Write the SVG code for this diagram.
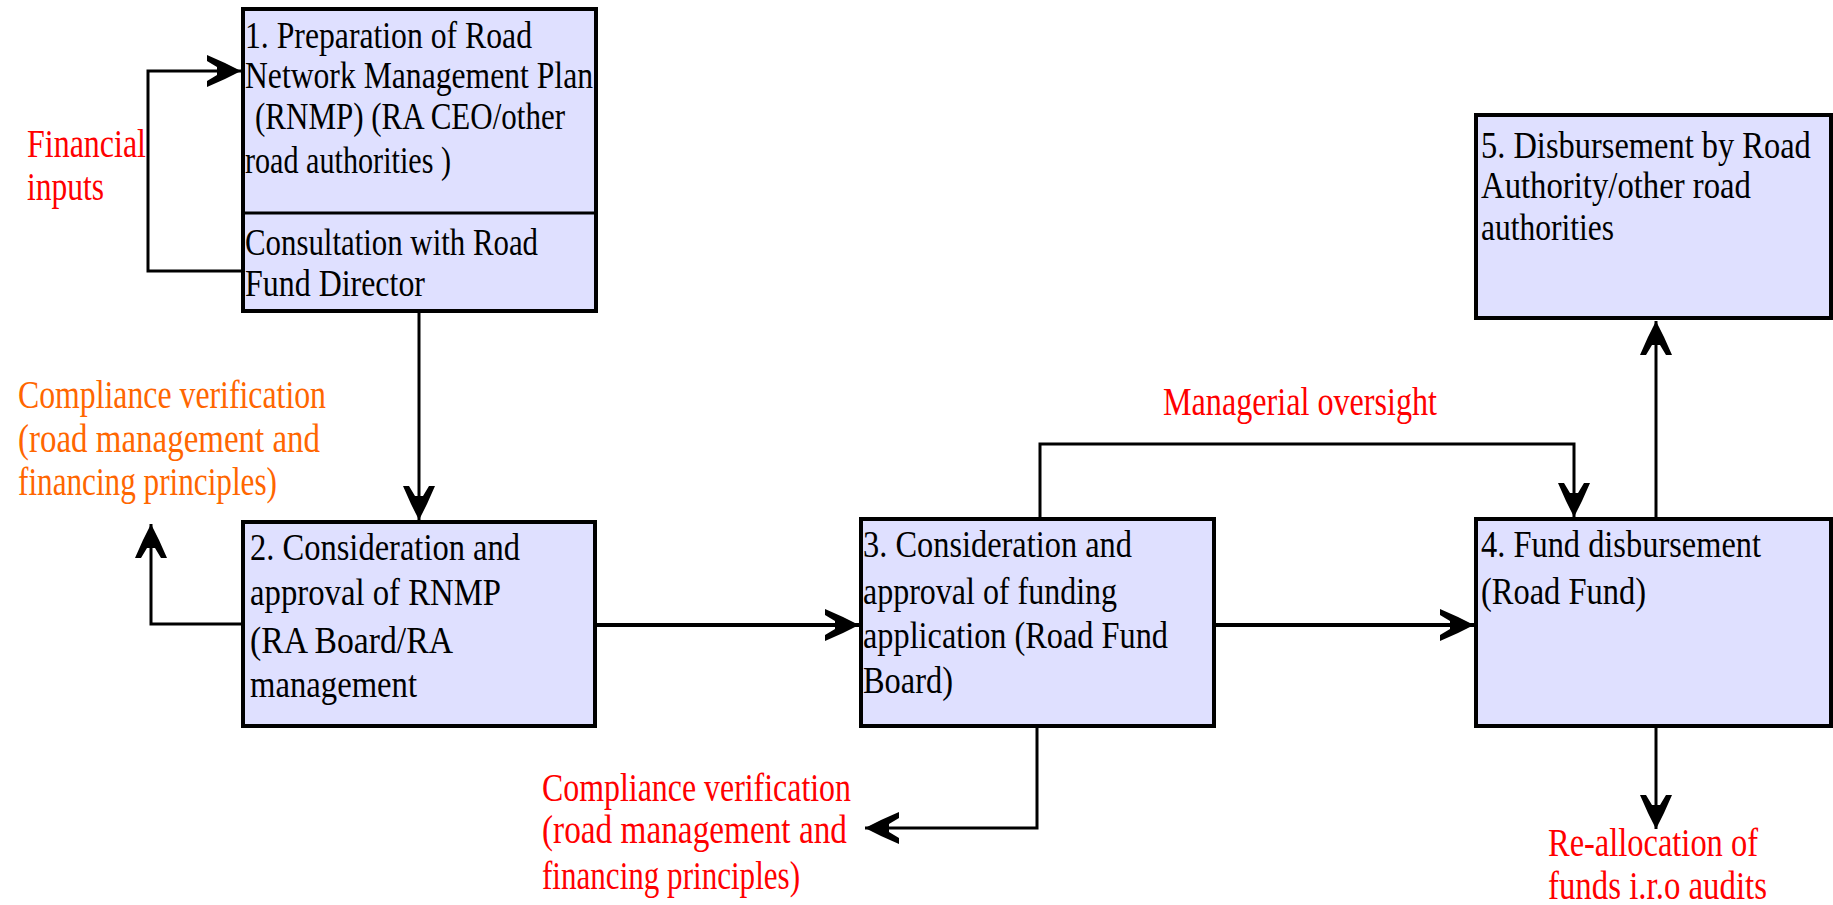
<svg xmlns="http://www.w3.org/2000/svg" width="1833" height="905" viewBox="0 0 1833 905">
<style>
.box{fill:#DFE0FF;stroke:#000;stroke-width:4}
.t{font-family:"Liberation Serif","Times New Roman",serif;font-size:38px;fill:#000}
.r{font-family:"Liberation Serif","Times New Roman",serif;font-size:41px;fill:#FF0000}
.o{font-family:"Liberation Serif","Times New Roman",serif;font-size:41px;fill:#FF6600}
.c{fill:none;stroke:#000;stroke-width:3}
.c4{fill:none;stroke:#000;stroke-width:4}
</style>
<defs>
<marker id="ah" markerUnits="userSpaceOnUse" viewBox="-40 -18 44 36" markerWidth="44" markerHeight="36" refX="0" refY="0" orient="auto" overflow="visible">
<path d="M0,0 L-6,-3 L-16,-8 L-34,-16 L-34,-10 L-24,-4 L-24,4 L-34,10 L-34,16 L-16,8 L-6,3 Z" fill="#000"/>
</marker>
</defs>
<rect width="1833" height="905" fill="#fff"/>
<g id="connectors">
<path class="c" d="M243,271 H148 V71 H241" marker-end="url(#ah)"/>
<path class="c" d="M419,311 V520" marker-end="url(#ah)"/>
<path class="c" d="M243,624 H151 V524" marker-end="url(#ah)"/>
<path class="c4" d="M596,625 H859" marker-end="url(#ah)"/>
<path class="c" d="M1037,727 V828 H865" marker-end="url(#ah)"/>
<path class="c" d="M1040,519 V444 H1574 V517" marker-end="url(#ah)"/>
<path class="c4" d="M1214,625 H1474" marker-end="url(#ah)"/>
<path class="c" d="M1656,519 V321" marker-end="url(#ah)"/>
<path class="c" d="M1656,727 V829" marker-end="url(#ah)"/>
</g>
<g id="node1">
<rect class="box" x="243" y="9" width="353" height="302"/>
<line x1="243" y1="213" x2="596" y2="213" stroke="#000" stroke-width="3"/>
<text class="t" x="245" y="48" textLength="287" lengthAdjust="spacingAndGlyphs">1. Preparation of Road</text>
<text class="t" x="245" y="88" textLength="348" lengthAdjust="spacingAndGlyphs">Network Management Plan</text>
<text class="t" x="255" y="129" textLength="310" lengthAdjust="spacingAndGlyphs">(RNMP) (RA CEO/other</text>
<text class="t" x="245" y="173" textLength="206" lengthAdjust="spacingAndGlyphs">road authorities )</text>
<text class="t" x="245" y="255" textLength="293" lengthAdjust="spacingAndGlyphs">Consultation with Road</text>
<text class="t" x="245" y="296" textLength="180" lengthAdjust="spacingAndGlyphs">Fund Director</text>
</g>
<g id="node2">
<rect class="box" x="243" y="522" width="352" height="204"/>
<text class="t" x="250" y="560" textLength="270" lengthAdjust="spacingAndGlyphs">2. Consideration and</text>
<text class="t" x="250" y="605" textLength="251" lengthAdjust="spacingAndGlyphs">approval of RNMP</text>
<text class="t" x="250" y="653" textLength="203" lengthAdjust="spacingAndGlyphs">(RA Board/RA</text>
<text class="t" x="250" y="697" textLength="167" lengthAdjust="spacingAndGlyphs">management</text>
</g>
<g id="node3">
<rect class="box" x="861" y="519" width="353" height="207"/>
<text class="t" x="863" y="557" textLength="269" lengthAdjust="spacingAndGlyphs">3. Consideration and</text>
<text class="t" x="863" y="604" textLength="254" lengthAdjust="spacingAndGlyphs">approval of funding</text>
<text class="t" x="863" y="648" textLength="305" lengthAdjust="spacingAndGlyphs">application (Road Fund</text>
<text class="t" x="863" y="693" textLength="90" lengthAdjust="spacingAndGlyphs">Board)</text>
</g>
<g id="node4">
<rect class="box" x="1476" y="519" width="355" height="207"/>
<text class="t" x="1481" y="557" textLength="280" lengthAdjust="spacingAndGlyphs">4. Fund disbursement</text>
<text class="t" x="1481" y="604" textLength="165" lengthAdjust="spacingAndGlyphs">(Road Fund)</text>
</g>
<g id="node5">
<rect class="box" x="1476" y="115" width="355" height="203"/>
<text class="t" transform="translate(1481,158) scale(0.85,1)" x="0" y="0" textLength="388" lengthAdjust="spacingAndGlyphs">5. Disbursement by Road</text>
<text class="t" x="1481" y="198" textLength="270" lengthAdjust="spacingAndGlyphs">Authority/other road</text>
<text class="t" x="1481" y="240" textLength="133" lengthAdjust="spacingAndGlyphs">authorities</text>
</g>
<g id="label-financial">
<text class="r" x="27" y="157" textLength="119" lengthAdjust="spacingAndGlyphs">Financial</text>
<text class="r" x="27" y="200" textLength="77" lengthAdjust="spacingAndGlyphs">inputs</text>
</g>
<g id="label-compliance1">
<text class="o" x="18" y="408" textLength="308" lengthAdjust="spacingAndGlyphs">Compliance verification</text>
<text class="o" x="18" y="452" textLength="302" lengthAdjust="spacingAndGlyphs">(road management and</text>
<text class="o" x="18" y="495" textLength="259" lengthAdjust="spacingAndGlyphs">financing principles)</text>
</g>
<g id="label-compliance2">
<text class="r" x="542" y="801" textLength="309" lengthAdjust="spacingAndGlyphs">Compliance verification</text>
<text class="r" x="542" y="843" textLength="305" lengthAdjust="spacingAndGlyphs">(road management and</text>
<text class="r" x="542" y="889" textLength="258" lengthAdjust="spacingAndGlyphs">financing principles)</text>
</g>
<g id="label-managerial">
<text class="r" x="1163" y="415" textLength="274" lengthAdjust="spacingAndGlyphs">Managerial oversight</text>
</g>
<g id="label-realloc">
<text class="r" x="1548" y="856" font-size="38" textLength="210" lengthAdjust="spacingAndGlyphs">Re-allocation of</text>
<text class="r" x="1548" y="899" font-size="38" textLength="219" lengthAdjust="spacingAndGlyphs">funds i.r.o audits</text>
</g>
</svg>
